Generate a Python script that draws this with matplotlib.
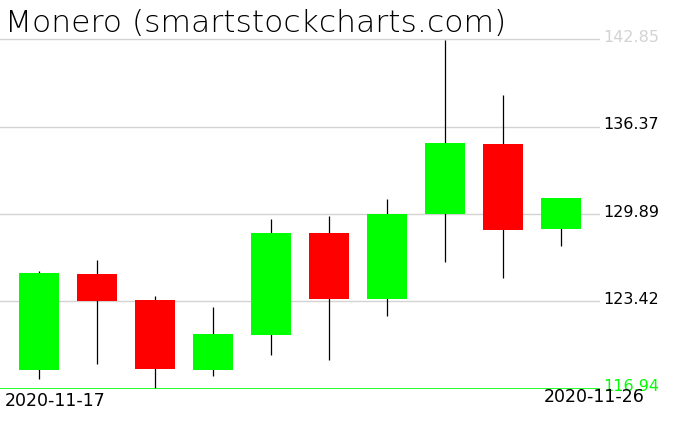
import numpy as np
import matplotlib
matplotlib.use("Agg")
import matplotlib.pyplot as plt
import matplotlib.transforms as mtransforms

# --- data -------------------------------------------------------------------
dates = ["2020-11-17", "2020-11-18", "2020-11-19", "2020-11-20", "2020-11-21",
         "2020-11-22", "2020-11-23", "2020-11-24", "2020-11-25", "2020-11-26"]
opens = [118.35, 125.46, 123.54, 118.35, 120.94, 128.50, 123.63, 129.91, 135.10, 128.80]
closes = [125.54, 123.46, 118.42, 121.02, 128.50, 123.63, 129.86, 135.18, 128.73, 131.10]
highs = [125.69, 126.50, 123.83, 123.02, 129.54, 129.76, 131.02, 142.81, 138.73, 131.10]
lows = [117.68, 118.79, 116.94, 117.90, 119.46, 119.09, 122.37, 126.35, 125.17, 127.54]
levels = [116.94, 123.42, 129.89, 136.37, 142.85]
level_colors = ["#00ff00", "black", "black", "black", "#d3d3d3"]
title = "Monero (smartstockcharts.com)"
# ---------------------------------------------------------------------------

W, H = 676, 431
fig = plt.figure(figsize=(W / 100, H / 100), dpi=100)
ax = fig.add_axes([0, (H - 390) / H, 600 / W, 390 / H])

x = np.arange(len(dates))
o = np.array(opens)
c = np.array(closes)
up = c >= o
colors = np.where(up, "#00ff00", "#ff0000")

ax.vlines(x, lows, highs, color="black", lw=0.9, zorder=2)
ax.bar(x, np.abs(c - o), bottom=np.minimum(o, c), width=0.69,
       color=colors, zorder=3, linewidth=0)

for lv in levels[1:]:
    ax.axhline(lv, color="#d3d3d3", lw=1, zorder=1)
ax.axhline(levels[0], color="#00ff00", lw=1.2, zorder=4)

ax.set_xlim(-0.672, len(dates) - 1 + 0.672)
ax.set_ylim(levels[0], levels[0] + 390 / 13.508)
ax.set_axis_off()

shift = mtransforms.offset_copy(ax.get_yaxis_transform(), fig=fig, x=3, y=3, units="dots")
for lv, col in zip(levels, level_colors):
    ax.text(1.0, lv, f"{lv:.2f}", color=col, fontsize=11.5,
            ha="left", va="center", transform=shift)

fig.text(5 / W, 1 - 23 / H, title, fontsize=22.6, fontweight="light",
         ha="left", va="center", color="black")
fig.text(5 / W, 1 - 401 / H, dates[0], fontsize=12.5, ha="left", va="center")
fig.text(645 / W, 1 - 397 / H, dates[-1], fontsize=12.5, ha="right", va="center")

fig.savefig("out.png", dpi=100)
